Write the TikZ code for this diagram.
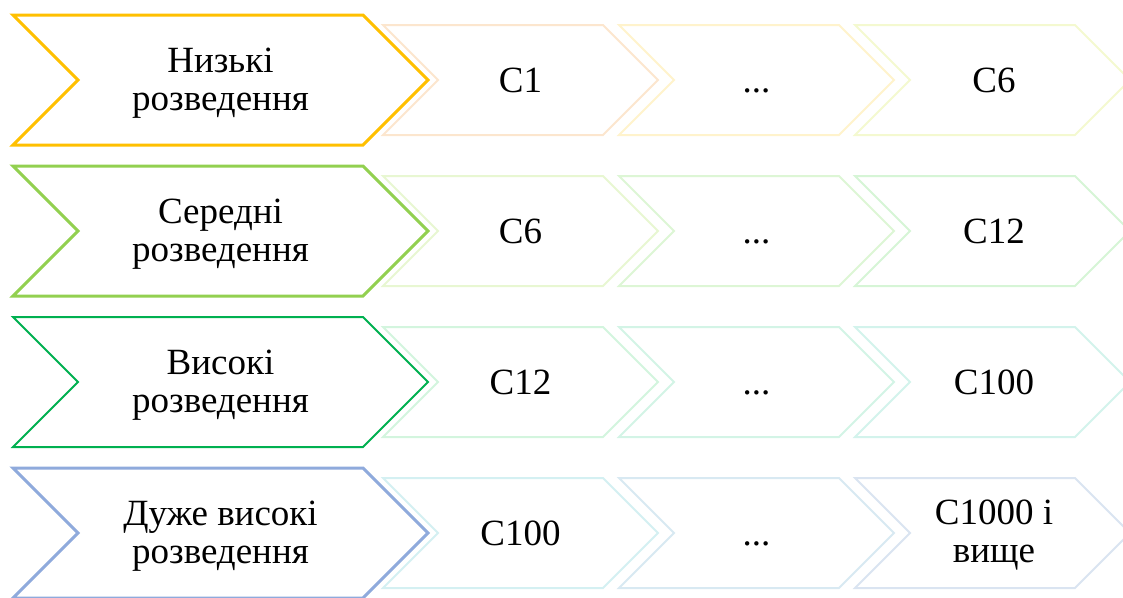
\documentclass[tikz,border=0pt]{standalone}
\usepackage{fontspec}
\setmainfont{Liberation Serif}
\definecolor{rA}{HTML}{FFC000}
\definecolor{rA1}{HTML}{FCE6CE}
\definecolor{rA2}{HTML}{FFF3CC}
\definecolor{rA3}{HTML}{F4F9D0}
\definecolor{rB}{HTML}{92D050}
\definecolor{rB1}{HTML}{E8F7D2}
\definecolor{rB2}{HTML}{DDF6D5}
\definecolor{rB3}{HTML}{D6F5D6}
\definecolor{rC}{HTML}{00B050}
\definecolor{rC1}{HTML}{D3F5DE}
\definecolor{rC2}{HTML}{D3F4E6}
\definecolor{rC3}{HTML}{D3F3EC}
\definecolor{rD}{HTML}{8FAADC}
\definecolor{rD1}{HTML}{D4F0F2}
\definecolor{rD2}{HTML}{D8E9F2}
\definecolor{rD3}{HTML}{DAE4F1}
\tikzset{
  label text/.style={align=center, font=\fontsize{37}{37.5}\selectfont, text=black, inner sep=0pt},
  one line/.style={label text, anchor=base},
  bigchev/.style={line width=3pt, fill=white},
  smallchev/.style={line width=2pt, fill=white},
}
% #1 left x, #2 mid y, #3 tip x, #4 half height, #5 style, #6 colour
\newcommand\chevpath[6]{%
  \draw[#5, draw=#6] (#1,#2-#4) -- (#3-#4,#2-#4) -- (#3,#2) -- (#3-#4,#2+#4)
     -- (#1,#2+#4) -- (#1+#4,#2) -- cycle;}
\begin{document}
\begin{tikzpicture}[x=1pt,y=-1pt]
\useasboundingbox (0,0) rectangle (1123,597);
\clip (0,0) rectangle (1123,597);
% ---------- row 1
\chevpath{855}{80}{1130}{55}{smallchev}{rA3}
\chevpath{619}{80}{894}{55}{smallchev}{rA2}
\chevpath{383}{80}{658}{55}{smallchev}{rA1}
\chevpath{13}{80}{428}{65}{bigchev}{rA}
\node[label text] (a0) at (220.5,83) {Низькі\\розведення};
\node[one line] (a1) at (520.5,92) {C1};
\node[one line] (a2) at (756.5,92) {...};
\node[one line] (a3) at (994,92) {C6};
% ---------- row 2
\chevpath{855}{231}{1130}{55}{smallchev}{rB3}
\chevpath{619}{231}{894}{55}{smallchev}{rB2}
\chevpath{383}{231}{658}{55}{smallchev}{rB1}
\chevpath{13}{231}{428}{65}{bigchev}{rB}
\node[label text] (b0) at (220.5,234) {Середні\\розведення};
\node[one line] (b1) at (520.5,243) {C6};
\node[one line] (b2) at (756.5,243) {...};
\node[one line] (b3) at (994,243) {C12};
% ---------- row 3
\chevpath{855}{382}{1130}{55}{smallchev}{rC3}
\chevpath{619}{382}{894}{55}{smallchev}{rC2}
\chevpath{383}{382}{658}{55}{smallchev}{rC1}
\chevpath{13}{382}{428}{65}{bigchev,line width=2pt}{rC}
\node[label text] (c0) at (220.5,385) {Високі\\розведення};
\node[one line] (c1) at (520.5,394) {C12};
\node[one line] (c2) at (756.5,394) {...};
\node[one line] (c3) at (994,394) {C100};
% ---------- row 4
\chevpath{855}{533}{1130}{55}{smallchev}{rD3}
\chevpath{619}{533}{894}{55}{smallchev}{rD2}
\chevpath{383}{533}{658}{55}{smallchev}{rD1}
\chevpath{13}{533}{428}{65}{bigchev}{rD}
\node[label text] (d0) at (220.5,536) {Дуже високі\\розведення};
\node[one line] (d1) at (520.5,545) {C100};
\node[one line] (d2) at (756.5,545) {...};
\node[label text] (d3) at (994,535) {C1000 і\\вище};
\end{tikzpicture}
\end{document}
